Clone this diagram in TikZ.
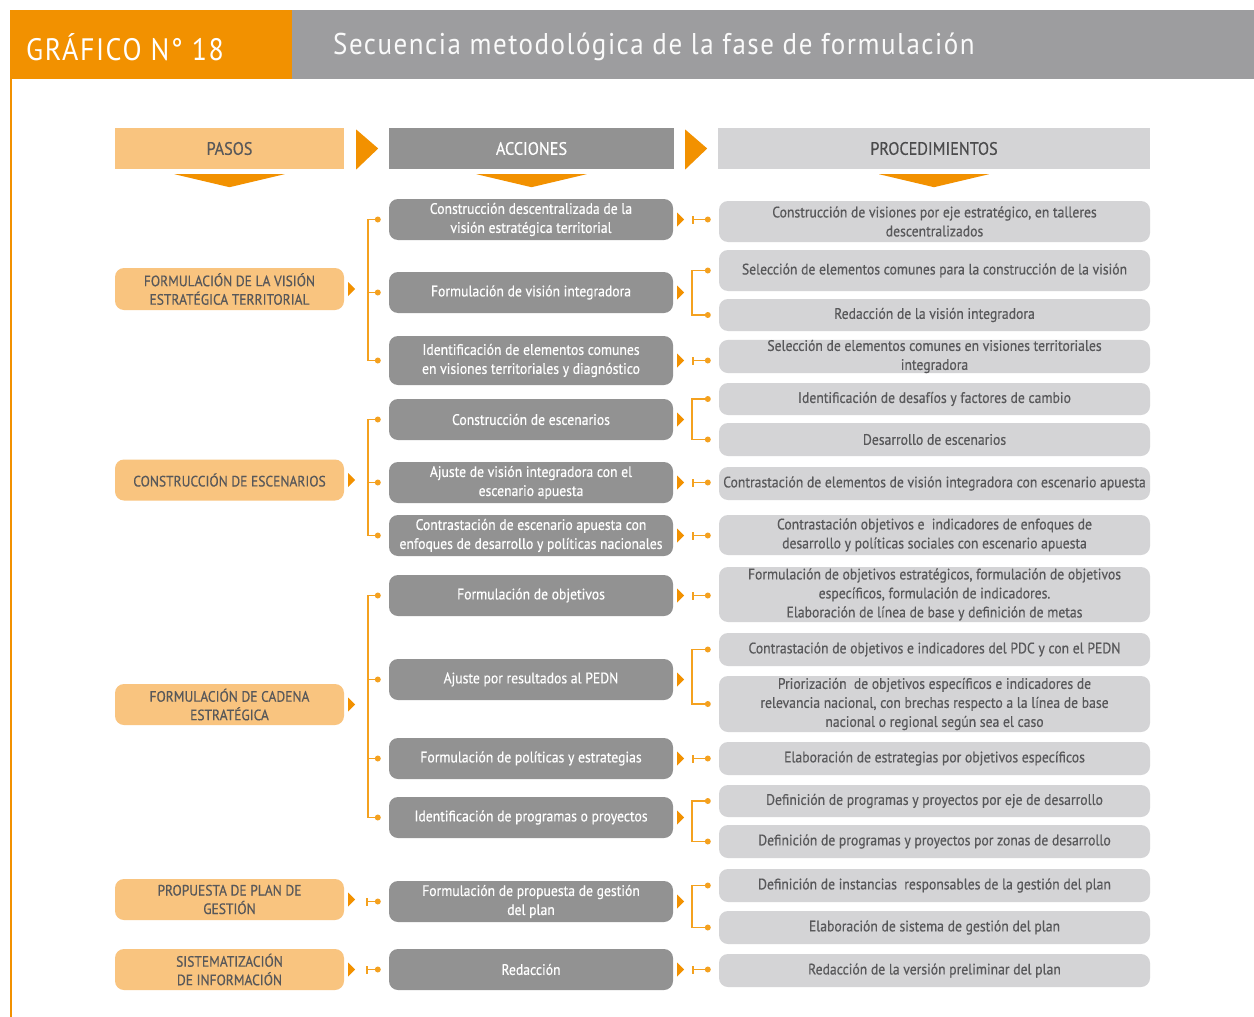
\documentclass[tikz,border=0pt]{standalone}
\usepackage{fontspec}
\setmainfont{PT Sans}[FakeStretch=0.9, FakeBold=0.5]
\newfontfamily\titlefont{PT Sans}[FakeStretch=0.9, LetterSpace=5]
\usetikzlibrary{calc}
\definecolor{org}{HTML}{F29100}
\definecolor{lorg}{HTML}{F9C47F}
\definecolor{dgray}{HTML}{929292}
\definecolor{lgray}{HTML}{D4D4D6}
\definecolor{hgray}{HTML}{9D9D9F}
\definecolor{txt}{HTML}{58585A}
\definecolor{lineorg}{HTML}{F4A11F}
\newcommand\ptri[1]{\fill[org] ($(#1.east)+(4,-7)$) -- ($(#1.east)+(11,0)$) -- ($(#1.east)+(4,7)$) -- cycle;}
\newcommand\ldot[1]{\fill[lineorg] (#1) circle (3);}
\begin{document}
\begin{tikzpicture}[x=1pt,y=-1pt,
  base/.style={rounded corners=9pt, align=center, inner sep=0pt, font=\fontsize{15.2}{19}\selectfont},
  paso/.style={base, fill=lorg, minimum width=229pt, minimum height=41pt, text=txt, font=\fontsize{15}{18.5}\selectfont},
  accion/.style={base, fill=dgray, minimum width=284pt, minimum height=41pt, text=white},
  proc/.style={base, fill=lgray, minimum width=431pt, minimum height=33pt, text=txt},
  head/.style={minimum height=41pt, inner sep=0pt, font=\fontsize{18}{20}\selectfont},
  conn/.style={draw=lineorg, line width=1.5pt},
]
\useasboundingbox (0,0) rectangle (1254,1017);
\fill[white] (0,0) rectangle (1254,1017);
% title band
\fill[org] (10,10) rectangle (292,79);
\fill[hgray] (292,10) rectangle (1254,79);
\fill[org] (10,79) rectangle (12,1017);
\node[anchor=west, text=white, inner sep=0pt, font=\titlefont\fontsize{31}{34}\selectfont] (t1) at (26,47) {GRÁFICO N° 18};
\node[anchor=west, text=white!96!gray, inner sep=0pt, font=\titlefont\fontsize{30}{34}\selectfont] (t2) at (333,47) {Secuencia metodológica de la fase de formulación};
% column headers
\node[head, fill=lorg, minimum width=229pt, text=txt] (h1) at (229.5,148.5) {PASOS};
\node[head, fill=dgray, minimum width=285pt, text=white] (h2) at (531.5,148.5) {ACCIONES};
\node[head, fill=lgray, minimum width=432pt, text=txt!85!black] (h3) at (934,148.5) {PROCEDIMIENTOS};
\fill[org] ($(h1.east)+(12,-19)$) -- ($(h1.east)+(34,0)$) -- ($(h1.east)+(12,21)$) -- cycle;
\fill[org] ($(h2.east)+(11,-19)$) -- ($(h2.east)+(33,0)$) -- ($(h2.east)+(11,21)$) -- cycle;
\foreach \h in {h1,h2,h3}{
  \fill[org] ($(\h.south)+(-55,5)$) -- ($(\h.south)+(55,5)$) -- ($(\h.south)+(0,18)$) -- cycle;
}
% pasos
\node[paso, minimum height=42pt] (s1) at (229.5,289) {FORMULACIÓN DE LA VISIÓN\\ESTRATÉGICA TERRITORIAL};
\node[paso] (s2) at (229.5,480) {CONSTRUCCIÓN DE ESCENARIOS};
\node[paso] (s3) at (229.5,704.5) {FORMULACIÓN DE CADENA\\ESTRATÉGICA};
\node[paso] (s4) at (229.5,899.5) {PROPUESTA DE PLAN DE\\GESTIÓN};
\node[paso] (s5) at (229.5,969.5) {SISTEMATIZACIÓN\\DE INFORMACIÓN};
% acciones
\node[accion] (a1) at (531,219.5) {Construcción descentralizada de la\\visión estratégica territorial};
\node[accion] (a2) at (531,292.5) {Formulación de visión integradora};
\node[accion, minimum height=49pt] (a3) at (531,360.5) {Identificación de elementos comunes\\en visiones territoriales y diagnóstico};
\node[accion] (a4) at (531,419.5) {Construcción de escenarios};
\node[accion] (a5) at (531,482.5) {Ajuste de visión integradora con el\\escenario apuesta};
\node[accion] (a6) at (531,535.5) {Contrastación de escenario apuesta con\\enfoques de desarrollo y políticas nacionales};
\node[accion] (a7) at (531,595.5) {Formulación de objetivos};
\node[accion] (a8) at (531,679.5) {Ajuste por resultados al PEDN};
\node[accion] (a9) at (531,758.5) {Formulación de políticas y estrategias};
\node[accion] (a10) at (531,817.5) {Identificación de programas o proyectos};
\node[accion] (a11) at (531,901.5) {Formulación de propuesta de gestión\\del plan};
\node[accion] (a12) at (531,969.5) {Redacción};
% procedimientos
\node[proc, minimum height=41pt] (p1) at (934.5,221.5) {Construcción de visiones por eje estratégico, en talleres\\descentralizados};
\node[proc, minimum height=41pt] (p2) at (934.5,270.5) {Selección de elementos comunes para la construcción de la visión};
\node[proc, minimum height=32pt] (p3) at (934.5,315) {Redacción de la visión integradora};
\node[proc] (p4) at (934.5,356.5) {Selección de elementos comunes en visiones territoriales\\integradora};
\node[proc, minimum height=32pt] (p5) at (934.5,399) {Identificación de desafíos y factores de cambio};
\node[proc] (p6) at (934.5,439.5) {Desarrollo de escenarios};
\node[proc] (p7) at (934.5,483.5) {Contrastación de elementos de visión integradora con escenario apuesta};
\node[proc, minimum height=40pt] (p8) at (934.5,535) {Contrastación objetivos e\ \ indicadores de enfoques de\\desarrollo y políticas sociales con escenario apuesta};
\node[proc, minimum height=55pt] (p9) at (934.5,594.5) {Formulación de objetivos estratégicos, formulación de objetivos\\específicos, formulación de indicadores.\\Elaboración de línea de base y definición de metas};
\node[proc] (p10) at (934.5,649.5) {Contrastación de objetivos e indicadores del PDC y con el PEDN};
\node[proc, minimum height=56pt] (p11) at (934.5,704) {Priorización\ \ de objetivos específicos e indicadores de\\relevancia nacional, con brechas respecto a la línea de base\\nacional o regional según sea el caso};
\node[proc] (p12) at (934.5,758.5) {Elaboración de estrategias por objetivos específicos};
\node[proc, minimum height=32pt] (p13) at (934.5,801) {Definición de programas y proyectos por eje de desarrollo};
\node[proc] (p14) at (934.5,841.5) {Definición de programas y proyectos por zonas de desarrollo};
\node[proc] (p15) at (934.5,885.5) {Definición de instancias\ \ responsables de la gestión del plan};
\node[proc] (p16) at (934.5,927.5) {Elaboración de sistema de gestión del plan};
\node[proc] (p17) at (934.5,970.5) {Redacción de la versión preliminar del plan};
% small triangles
\foreach \n in {s1,s2,s3,s4,s5,a1,a2,a3,a4,a5,a6,a7,a8,a9,a10,a11,a12}{\ptri{\n}}
% left brackets (pasos -> acciones)
\draw[conn] ([xshift=-11pt]a1.west) -- ([xshift=-21pt]a1.west) -- ([xshift=-21pt]a3.west) -- ([xshift=-11pt]a3.west);
\draw[conn] ([xshift=-21pt]a2.west) -- ([xshift=-11pt]a2.west);
\draw[conn] ([xshift=-11pt]a4.west) -- ([xshift=-21pt]a4.west) -- ([xshift=-21pt]a6.west) -- ([xshift=-11pt]a6.west);
\draw[conn] ([xshift=-21pt]a5.west) -- ([xshift=-11pt]a5.west);
\draw[conn] ([xshift=-11pt]a7.west) -- ([xshift=-21pt]a7.west) -- ([xshift=-21pt]a10.west) -- ([xshift=-11pt]a10.west);
\draw[conn] ([xshift=-21pt]a8.west) -- ([xshift=-11pt]a8.west);
\draw[conn] ([xshift=-21pt]a9.west) -- ([xshift=-11pt]a9.west);
\draw[conn] ([xshift=-22pt]a11.west) -- ([xshift=-11pt]a11.west);
\draw[conn] ([xshift=-22pt,yshift=-4pt]a11.west) -- ([xshift=-22pt,yshift=4pt]a11.west);
\draw[conn] ([xshift=-22pt]a12.west) -- ([xshift=-11pt]a12.west);
\draw[conn] ([xshift=-22pt,yshift=-4pt]a12.west) -- ([xshift=-22pt,yshift=4pt]a12.west);
\foreach \n in {a1,a2,a3,a4,a5,a6,a7,a8,a9,a10,a11,a12}{\ldot{[xshift=-11pt]\n.west}}
% right connectors: singles
\foreach \a/\p in {a1/p1,a3/p4,a5/p7,a6/p8,a7/p9,a9/p12,a12/p17}{
  \coordinate (e\p) at ($(\p.west|-\a.east)+(-11,0)$);
  \coordinate (b\p) at ($(\p.west|-\a.east)+(-26,0)$);
  \draw[conn] (b\p) -- (e\p);
  \draw[conn] ([yshift=-4pt]b\p) -- ([yshift=4pt]b\p);
  \ldot{e\p}
}
% right connectors: brackets
\foreach \p/\q in {p2/p3,p5/p6,p10/p11,p13/p14,p15/p16}{
  \draw[conn] ([xshift=-11pt]\p.west) -- ([xshift=-27pt]\p.west) -- ([xshift=-27pt]\q.west) -- ([xshift=-11pt]\q.west);
  \ldot{[xshift=-11pt]\p.west}
  \ldot{[xshift=-11pt]\q.west}
}
\end{tikzpicture}
\end{document}
